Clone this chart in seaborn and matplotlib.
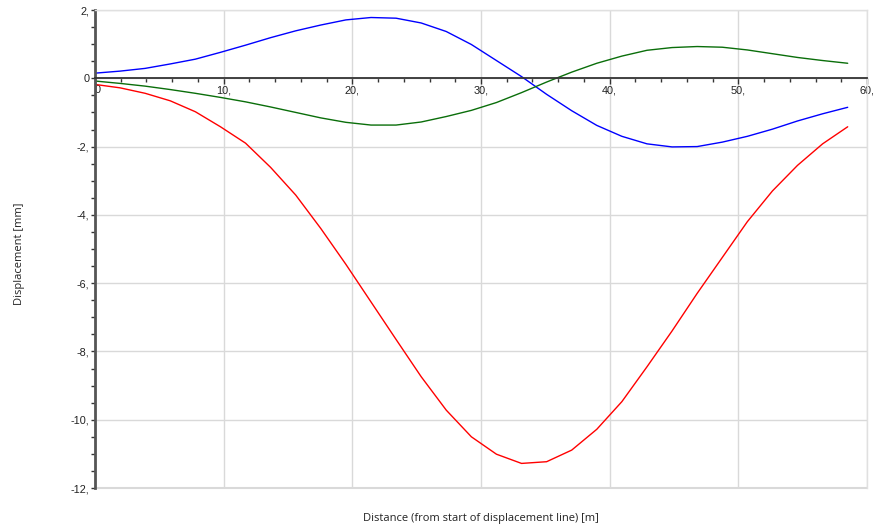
import numpy as np
import pandas as pd
import matplotlib
matplotlib.use("Agg")
import matplotlib.pyplot as plt
from matplotlib.ticker import MultipleLocator, FixedLocator, FixedFormatter
import seaborn as sns

# ---- Data ----
distance = [0.0, 1.95, 3.9, 5.85, 7.8, 9.75, 11.7, 13.65, 15.6, 17.55,
            19.5, 21.45, 23.4, 25.35, 27.3, 29.25, 31.2, 33.15, 35.1, 37.05,
            39.0, 40.95, 42.9, 44.85, 46.8, 48.75, 50.7, 52.65, 54.6, 56.55, 58.5]

disp_x = [0.15, 0.21, 0.29, 0.42, 0.56, 0.76, 0.97, 1.19, 1.39, 1.56,
          1.71, 1.78, 1.76, 1.62, 1.37, 0.99, 0.52, 0.05, -0.47, -0.95,
          -1.38, -1.70, -1.92, -2.01, -2.00, -1.87, -1.70, -1.49, -1.25, -1.04, -0.85]

disp_y = [-0.08, -0.15, -0.23, -0.33, -0.44, -0.56, -0.69, -0.84, -1.00, -1.16,
          -1.29, -1.37, -1.37, -1.28, -1.12, -0.94, -0.71, -0.42, -0.11, 0.18,
          0.44, 0.65, 0.82, 0.90, 0.93, 0.91, 0.83, 0.72, 0.61, 0.52, 0.44]

disp_z = [-0.18, -0.28, -0.44, -0.66, -0.98, -1.42, -1.90, -2.61, -3.42, -4.40,
          -5.45, -6.55, -7.65, -8.74, -9.72, -10.50, -11.01, -11.28, -11.23, -10.89,
          -10.28, -9.47, -8.45, -7.40, -6.30, -5.25, -4.20, -3.30, -2.55, -1.92, -1.42]

x_ticks = [0, 10, 20, 30, 40, 50, 60]
x_tick_labels = ["0", "10,", "20,", "30,", "40,", "50,", "60,"]
y_ticks = [2, 0, -2, -4, -6, -8, -10, -12]
y_tick_labels = ["2,", "0", "-2,", "-4,", "-6,", "-8,", "-10,", "-12,"]

df = pd.DataFrame({
    "Distance": distance * 3,
    "Displacement": disp_x + disp_y + disp_z,
    "Component": ["Ux"] * len(distance) + ["Uy"] * len(distance) + ["Uz"] * len(distance),
})

sns.set_style("white")

fig = plt.figure(figsize=(8.73, 5.29), dpi=100)
ax = fig.add_axes([95 / 873, 1 - 488 / 529, 772 / 873, 478 / 529])

sns.lineplot(data=df, x="Distance", y="Displacement", hue="Component",
             palette={"Ux": "#0000ff", "Uy": "#0a6e0a", "Uz": "#ff0000"},
             linewidth=1.0, legend=False, ax=ax)

ax.set_xlim(0, 60)
ax.set_ylim(-12, 2)

# ticks and grid
ax.xaxis.set_major_locator(FixedLocator(x_ticks))
ax.xaxis.set_major_formatter(FixedFormatter(x_tick_labels))
ax.yaxis.set_major_locator(FixedLocator(y_ticks))
ax.yaxis.set_major_formatter(FixedFormatter(y_tick_labels))
ax.xaxis.set_minor_locator(MultipleLocator(2))
ax.yaxis.set_minor_locator(MultipleLocator(0.5))
ax.grid(True, which="major", color="#d9d9d9", linewidth=1.0, zorder=0)
ax.set_axisbelow(True)
# bottom border of the plot area
ax.axhline(-12, color="#d9d9d9", linewidth=1.5, clip_on=False, zorder=0)

# x axis sits on the zero line
ax.spines["bottom"].set_position(("data", 0))
ax.spines["bottom"].set_color("#333333")
ax.spines["bottom"].set_linewidth(1.3)
ax.spines["left"].set_color("#555555")
ax.spines["left"].set_linewidth(2.0)
for s in ["top", "right"]:
    ax.spines[s].set_color("#e0e0e0")
    ax.spines[s].set_linewidth(1.0)

ax.tick_params(axis="both", which="both", direction="out", color="#333333",
               labelsize=7.8, labelcolor="#222222", labelfontfamily="Liberation Sans")
ax.tick_params(axis="x", which="both", bottom=True, pad=1)
ax.tick_params(axis="x", which="major", length=4, width=1)
ax.tick_params(axis="x", which="minor", length=3, width=1)
ax.tick_params(axis="y", which="both", left=True, pad=1)
ax.tick_params(axis="y", which="major", length=3, width=1)
ax.tick_params(axis="y", which="minor", length=3, width=1)

# the "0" at the origin sits to the right of the left spine
ax.get_xticklabels()[0].set_horizontalalignment("left")

ax.set_xlabel("")
ax.set_ylabel("")
fig.text(481 / 873, 1 - 518 / 529, "Distance (from start of displacement line) [m]",
         ha="center", va="center", fontsize=8, family="Open Sans", color="#222222")
fig.text(20 / 873, 1 - 254 / 529, "Displacement [mm]", rotation=90,
         ha="center", va="center", fontsize=8, family="Open Sans", color="#222222")

fig.savefig("out.png", dpi=100)
